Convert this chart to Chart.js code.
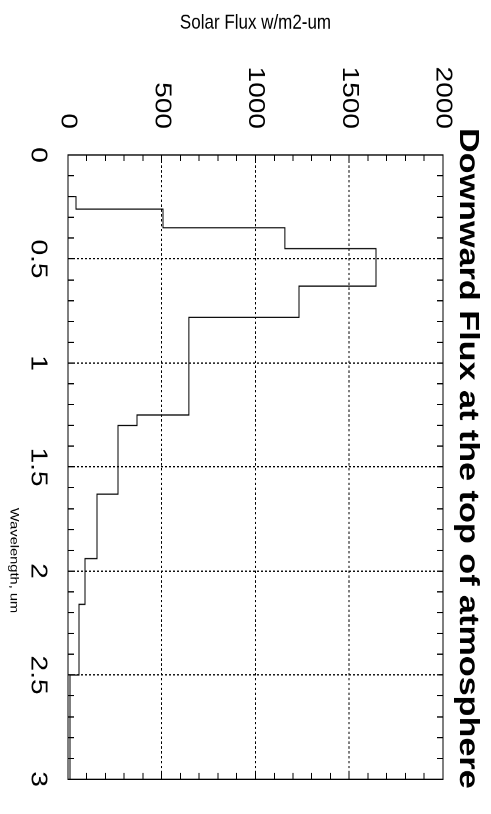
<!DOCTYPE html>
<html>
<head>
<meta charset="utf-8">
<script src="https://cdn.jsdelivr.net/npm/chart.js@4"></script>
<style>
html,body{margin:0;padding:0;background:#fff;width:491px;height:814px;overflow:hidden;}
#wrap{position:absolute;left:0;top:0;width:667px;height:491px;transform-origin:0 0;
  transform:translate(491px,0) rotate(90deg) scale(1.2204,1);}
canvas{display:block;}
</style>
</head>
<body>
<div id="wrap"><canvas id="c" width="667" height="491"></canvas></div>
<script>
// ---- data ----
const chartTitle = 'Downward Flux at the top of atmosphere';
const xAxisTitle = 'Wavelength, um';
const yAxisTitle = 'Solar Flux w/m2-um';
const bandStart = [0, 0.2, 0.26, 0.35, 0.45, 0.63, 0.78, 1.25, 1.30, 1.63, 1.94, 2.16, 2.5, 3.0];
const bandFlux  = [0, 43, 507, 1157, 1643, 1232, 645, 368, 267, 155, 91, 59, 11, 11];
const xTickLabels = ['0', '0.5', '1', '1.5', '2', '2.5', '3'];
const yTickLabels = ['0', '500', '1000', '1500', '2000'];

// ---- styling / layout constants ----
const FONT = "'Liberation Sans', Arial, Helvetica, sans-serif";
const TITLE_LEFT = 104.9;
const X_TITLE_SHIFT = 76.6;

function majorIndex(v, step) {
  const r = v / step;
  const i = Math.round(r);
  return Math.abs(r - i) < 1e-6 ? i : -1;
}
function xLabel(v) { const i = majorIndex(v, 0.5); return i >= 0 && xTickLabels[i] !== undefined ? xTickLabels[i] : ''; }
function yLabel(v) { const i = majorIndex(v, 500); return i >= 0 && yTickLabels[i] !== undefined ? yTickLabels[i] : ''; }
function gridX(c) { if (!c.tick) return 'rgba(0,0,0,0)'; const v = c.tick.value; return (majorIndex(v, 0.5) >= 0 && v > 0 && v < 3) ? '#000' : 'rgba(0,0,0,0)'; }
function gridY(c) { if (!c.tick) return 'rgba(0,0,0,0)'; const v = c.tick.value; return (majorIndex(v, 500) >= 0 && v > 0 && v < 2000) ? '#000' : 'rgba(0,0,0,0)'; }

const points = bandStart.map((x, i) => ({x: x, y: bandFlux[i]}));

const adjust = {
  id: 'adjust',
  afterLayout(chart) {
    const tb = chart.titleBlock;
    if (tb) { tb.left = TITLE_LEFT; tb.right = TITLE_LEFT + 620; }
    const xs = chart.scales.x;
    if (xs && !xs._shiftPatched) {
      const orig = xs.drawTitle;
      xs.drawTitle = function () {
        this.ctx.save();
        this.ctx.translate(X_TITLE_SHIFT, 0);
        orig.apply(this, arguments);
        this.ctx.restore();
      };
      xs._shiftPatched = true;
    }
  }
};

new Chart(document.getElementById('c'), {
  type: 'line',
  data: {
    datasets: [{
      data: points,
      xAxisID: 'x',
      yAxisID: 'y',
      stepped: 'before',
      borderColor: '#000',
      borderWidth: 1,
      pointRadius: 0,
      fill: false
    }]
  },
  options: {
    responsive: false,
    animation: false,
    devicePixelRatio: 2,
    layout: {padding: 0},
    plugins: {
      legend: {display: false},
      tooltip: {enabled: false},
      title: {
        display: true, text: chartTitle, align: 'start', color: '#000',
        font: {family: FONT, size: 28, weight: 'bold'},
        padding: {top: 6.5, bottom: 7.9}
      }
    },
    scales: {
      x: {
        type: 'linear', position: 'bottom', min: 0, max: 3,
        afterFit: s => { s.height = 68; },
        ticks: {stepSize: 0.1, autoSkip: false, maxRotation: 0, minRotation: 0, maxTicksLimit: 1000,
                padding: 22.2, color: '#000', font: {family: FONT, size: 23}, callback: v => xLabel(v)},
        grid: {color: gridX, lineWidth: 1, drawTicks: true, tickLength: -6, tickColor: '#000', tickWidth: 1},
        border: {display: true, color: '#000', width: 1, dash: [2, 2]},
        title: {display: true, text: xAxisTitle, color: '#000', font: {family: FONT, size: 12},
                padding: {top: 0, bottom: 6.8}}
      },
      x2: {
        type: 'linear', position: 'top', min: 0, max: 3,
        afterFit: s => { s.height = 0; },
        ticks: {display: false, stepSize: 0.1, autoSkip: false, maxTicksLimit: 1000},
        grid: {drawOnChartArea: false, drawTicks: true, tickLength: -6, tickColor: '#000', tickWidth: 1},
        border: {display: true, color: '#000', width: 1}
      },
      y: {
        type: 'linear', position: 'left', min: 0, max: 2000,
        afterFit: s => { s.width = 127; },
        ticks: {stepSize: 100, autoSkip: false, maxTicksLimit: 1000,
                padding: 26.3, color: '#000', font: {family: FONT, size: 23}, callback: v => yLabel(v)},
        grid: {color: gridY, lineWidth: 1, drawTicks: true, tickLength: -5, tickColor: '#000', tickWidth: 1},
        border: {display: true, color: '#000', width: 1, dash: [2, 2]},
        title: {display: true, text: yAxisTitle, color: '#000', font: {family: FONT, size: 17},
                padding: {top: 8.5, bottom: 0}}
      },
      y2: {
        type: 'linear', position: 'right', min: 0, max: 2000,
        afterFit: s => { s.width = 24.6; },
        ticks: {display: false, stepSize: 100, autoSkip: false, maxTicksLimit: 1000},
        grid: {drawOnChartArea: false, drawTicks: true, tickLength: -5, tickColor: '#000', tickWidth: 1},
        border: {display: true, color: '#000', width: 1}
      }
    }
  },
  plugins: [adjust]
});
</script>
</body>
</html>
